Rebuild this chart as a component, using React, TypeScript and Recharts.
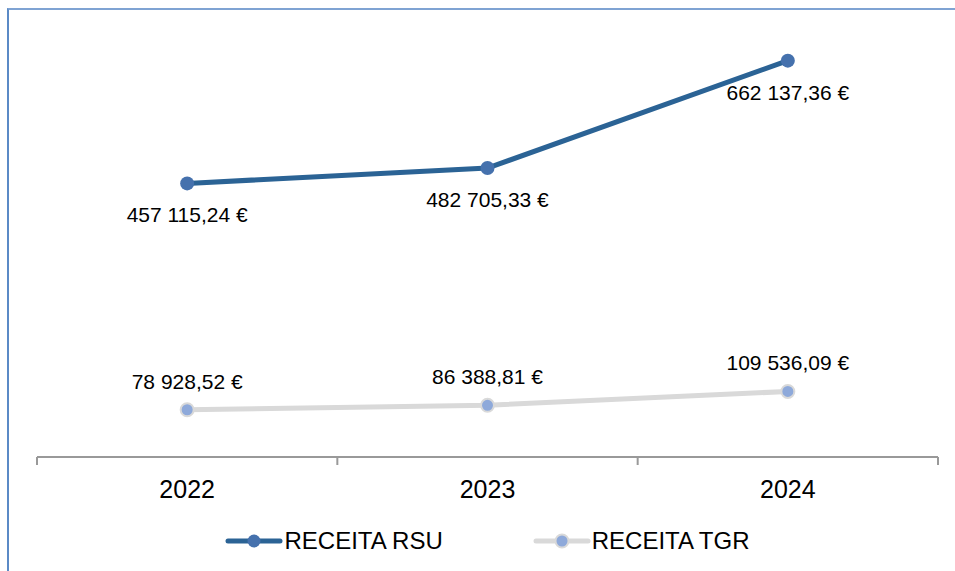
import React from "react";
import { LineChart, Line, XAxis, YAxis, LabelList } from "recharts";

const years = ["2022", "2023", "2024"];
const receitaRSU = [457115.24, 482705.33, 662137.36];
const receitaTGR = [78928.52, 86388.81, 109536.09];

const series = [
  { key: "rsu", name: "RECEITA RSU", line: "#2B6395", dot: "#4571AD", dotStroke: "none" },
  { key: "tgr", name: "RECEITA TGR", line: "#D9D9D9", dot: "#8EA9DA", dotStroke: "#D9D9D9" },
];

const data = years.map((year, i) => ({
  year,
  rsu: receitaRSU[i],
  tgr: receitaTGR[i],
}));

const FONT = '"Liberation Sans", Arial, sans-serif';

// 457115.24 -> "457 115,24 €"
function formatEuro(v: number) {
  const [int, dec] = v.toFixed(2).split(".");
  const grouped = int.replace(/\B(?=(\d{3})+(?!\d))/g, " ");
  return `${grouped},${dec} €`;
}

function YearTick(props: any) {
  const { x, y, payload, index, visibleTicksCount } = props;
  const half = payload.offset || 150;
  const last = index === (visibleTicksCount ?? years.length) - 1;
  return (
    <g>
      <line x1={x - half} x2={x - half} y1={y} y2={y + 8} stroke="#999" strokeWidth={2} />
      {last && (
        <line x1={x + half} x2={x + half} y1={y} y2={y + 8} stroke="#999" strokeWidth={2} />
      )}
      <text
        x={x}
        y={y + 32}
        textAnchor="middle"
        dominantBaseline="central"
        fontSize={25}
        fontFamily={FONT}
        fill="#000"
      >
        {payload.value}
      </text>
    </g>
  );
}

function LegendIcon({ line, dot, dotStroke }: { line: string; dot: string; dotStroke: string }) {
  return (
    <svg width={58} height={16} style={{ display: "block" }}>
      <line x1={3} x2={55} y1={8} y2={8} stroke={line} strokeWidth={5} strokeLinecap="round" />
      <circle cx={29} cy={8} r={6.5} fill={dot} stroke={dotStroke === "none" ? "none" : dotStroke} strokeWidth={2} />
    </svg>
  );
}

export default function App() {
  return (
    <div
      style={{
        position: "absolute",
        left: 0,
        top: 0,
        width: 955,
        height: 571,
        overflow: "hidden",
        background: "#fff",
      }}
    >
      <div
        style={{
          position: "absolute",
          left: 7,
          top: 8,
          width: 1000,
          height: 620,
          borderLeft: "2px solid #5B8AC6",
          borderTop: "2px solid #7FA3D3",
        }}
      />
      <div style={{ position: "absolute", left: 0, top: 0 }}>
        <LineChart
          width={955}
          height={571}
          data={data}
          margin={{ top: 38, right: 17, bottom: 0, left: 37 }}
        >
          <XAxis
            dataKey="year"
            scale="band"
            height={114}
            tickSize={0}
            tickMargin={0}
            tickLine={false}
            axisLine={{ stroke: "#999", strokeWidth: 2 }}
            tick={<YearTick />}
            interval={0}
          />
          <YAxis hide domain={[0, 700000]} />
          <Line
            dataKey="rsu"
            name={series[0].name}
            stroke={series[0].line}
            strokeWidth={5}
            dot={{ r: 7, fill: series[0].dot, stroke: "none" }}
            isAnimationActive={false}
          >
            <LabelList
              dataKey="rsu"
              position="bottom"
              offset={24}
              formatter={(v: any) => formatEuro(Number(v))}
              style={{ fontSize: 21, fontFamily: FONT, fill: "#000" }}
            />
          </Line>
          <Line
            dataKey="tgr"
            name={series[1].name}
            stroke={series[1].line}
            strokeWidth={5}
            dot={{ r: 6.5, fill: series[1].dot, stroke: series[1].dotStroke, strokeWidth: 2 }}
            isAnimationActive={false}
          >
            <LabelList
              dataKey="tgr"
              position="top"
              offset={21}
              formatter={(v: any) => formatEuro(Number(v))}
              style={{ fontSize: 21, fontFamily: FONT, fill: "#000" }}
            />
          </Line>
        </LineChart>
      </div>
      <div
        style={{
          position: "absolute",
          left: 37,
          width: 901,
          top: 541 - 14,
          height: 28,
          display: "flex",
          justifyContent: "center",
          alignItems: "center",
          gap: 90,
          fontFamily: FONT,
          fontSize: 24,
          color: "#000",
        }}
      >
        {series.map((s) => (
          <div key={s.key} style={{ display: "flex", alignItems: "center", gap: 1 }}>
            <LegendIcon line={s.line} dot={s.dot} dotStroke={s.dotStroke} />
            <span style={{ lineHeight: "28px" }}>{s.name}</span>
          </div>
        ))}
      </div>
    </div>
  );
}
